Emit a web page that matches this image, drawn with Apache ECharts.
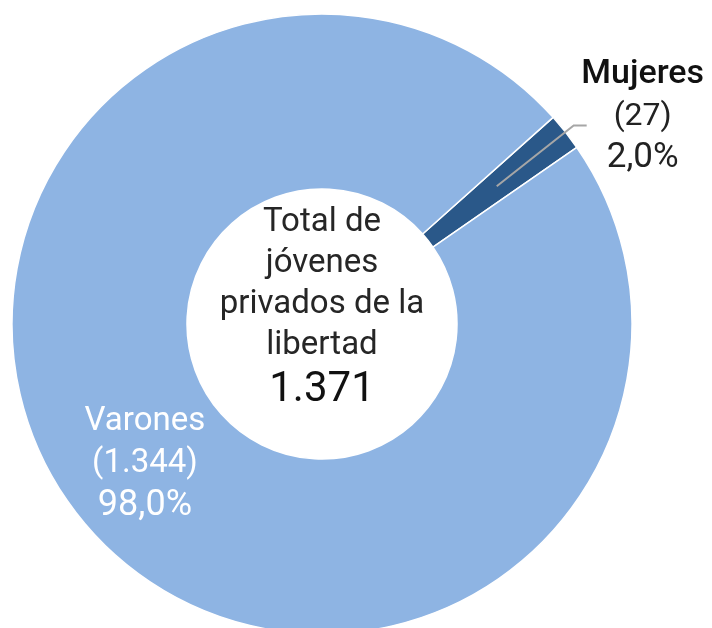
<!DOCTYPE html>
<html><head><meta charset="utf-8">
<script src="https://cdn.jsdelivr.net/npm/echarts@6/dist/echarts.min.js"></script>
<style>html,body{margin:0;padding:0;background:#fff}#c{width:712px;height:628px}</style>
</head><body><div id="c"></div>
<script>
// ---- data ----
const categories = ['Mujeres', 'Varones'];
const values = [27, 1344];
const centerTitle = ['Total de', 'jóvenes', 'privados de la', 'libertad'];
const colors = ['#2A5889', '#8EB4E3'];

// ---- helpers ----
const total = values.reduce((a, b) => a + b, 0);
const fmtInt = n => String(n).replace(/\B(?=(\d{3})+(?!\d))/g, '.');
const fmtPct = v => (v / total * 100).toFixed(1).replace('.', ',') + '%';

const C = [322, 324];
const R = [135, 310];
const mid = (R[0] + R[1]) / 2;
const startAngle = 41.8;
const font = 'Roboto, "Noto Sans", sans-serif';

const chart = echarts.init(document.getElementById('c'), null, {renderer: 'canvas'});

const mainData = categories.map((c, i) => ({
  name: c, value: values[i],
  itemStyle: {color: colors[i]},
  label: {show: c === 'Varones'}
}));
const overlayData = categories.map((c, i) => ({
  name: c, value: values[i],
  itemStyle: {color: 'rgba(0,0,0,0)', borderWidth: 0},
  label: {show: c === 'Mujeres'},
  labelLine: {show: c === 'Mujeres'}
}));

const centerText = centerTitle.map(t => '{a|' + t + '}').join('\n') + '\n{b|' + fmtInt(total) + '}';

chart.setOption({
  backgroundColor: '#fff',
  animation: false,
  series: [
    {
      type: 'pie', z: 2, center: C, radius: R, startAngle: startAngle, clockwise: true,
      avoidLabelOverlap: false, silent: true,
      itemStyle: {borderColor: '#fff', borderWidth: 1.5},
      label: {
        show: true, position: 'inside',
        formatter: p => '{n|' + p.name + '}\n{v|(' + fmtInt(p.value) + ')}\n{p|' + fmtPct(p.value) + '}',
        rich: {
          n: {fontSize: 33, lineHeight: 42, color: '#fff', fontFamily: font},
          v: {fontSize: 33, lineHeight: 42, color: '#fff', fontFamily: font},
          p: {fontSize: 36, lineHeight: 42, color: '#fff', fontFamily: font}
        }
      },
      labelLine: {show: false},
      data: mainData
    },
    {
      type: 'pie', z: 5, center: C, radius: [0, mid], startAngle: startAngle, clockwise: true,
      avoidLabelOverlap: false, silent: true,
      label: {
        show: true, position: 'outside', alignTo: 'none', distanceToLabelLine: 0,
        formatter: p => '{n|' + p.name + '}\n{v|(' + fmtInt(p.value) + ')}\n{p|' + fmtPct(p.value) + '}',
        rich: {
          n: {fontSize: 34, lineHeight: 42, width: 112, align: 'center', color: '#111', fontWeight: 500, fontFamily: font},
          v: {fontSize: 32, lineHeight: 42, width: 112, align: 'center', color: '#222', fontFamily: font},
          p: {fontSize: 35, lineHeight: 42, width: 112, align: 'center', color: '#222', fontFamily: font}
        }
      },
      labelLine: {show: true, length: 98, length2: 13, smooth: false, lineStyle: {color: '#A6A6A6', width: 2}},
      labelLayout: {dy: -9},
      data: overlayData
    }
  ],
  graphic: [{
    type: 'text', x: C[0], y: C[1] - 16, silent: true, z: 10,
    style: {
      text: centerText, align: 'center', verticalAlign: 'middle',
      rich: {
        a: {fontSize: 33, lineHeight: 41, fill: '#262626', fontFamily: font, align: 'center'},
        b: {fontSize: 42, lineHeight: 48, fill: '#111', fontFamily: font, align: 'center'}
      }
    }
  }]
});
</script></body></html>
